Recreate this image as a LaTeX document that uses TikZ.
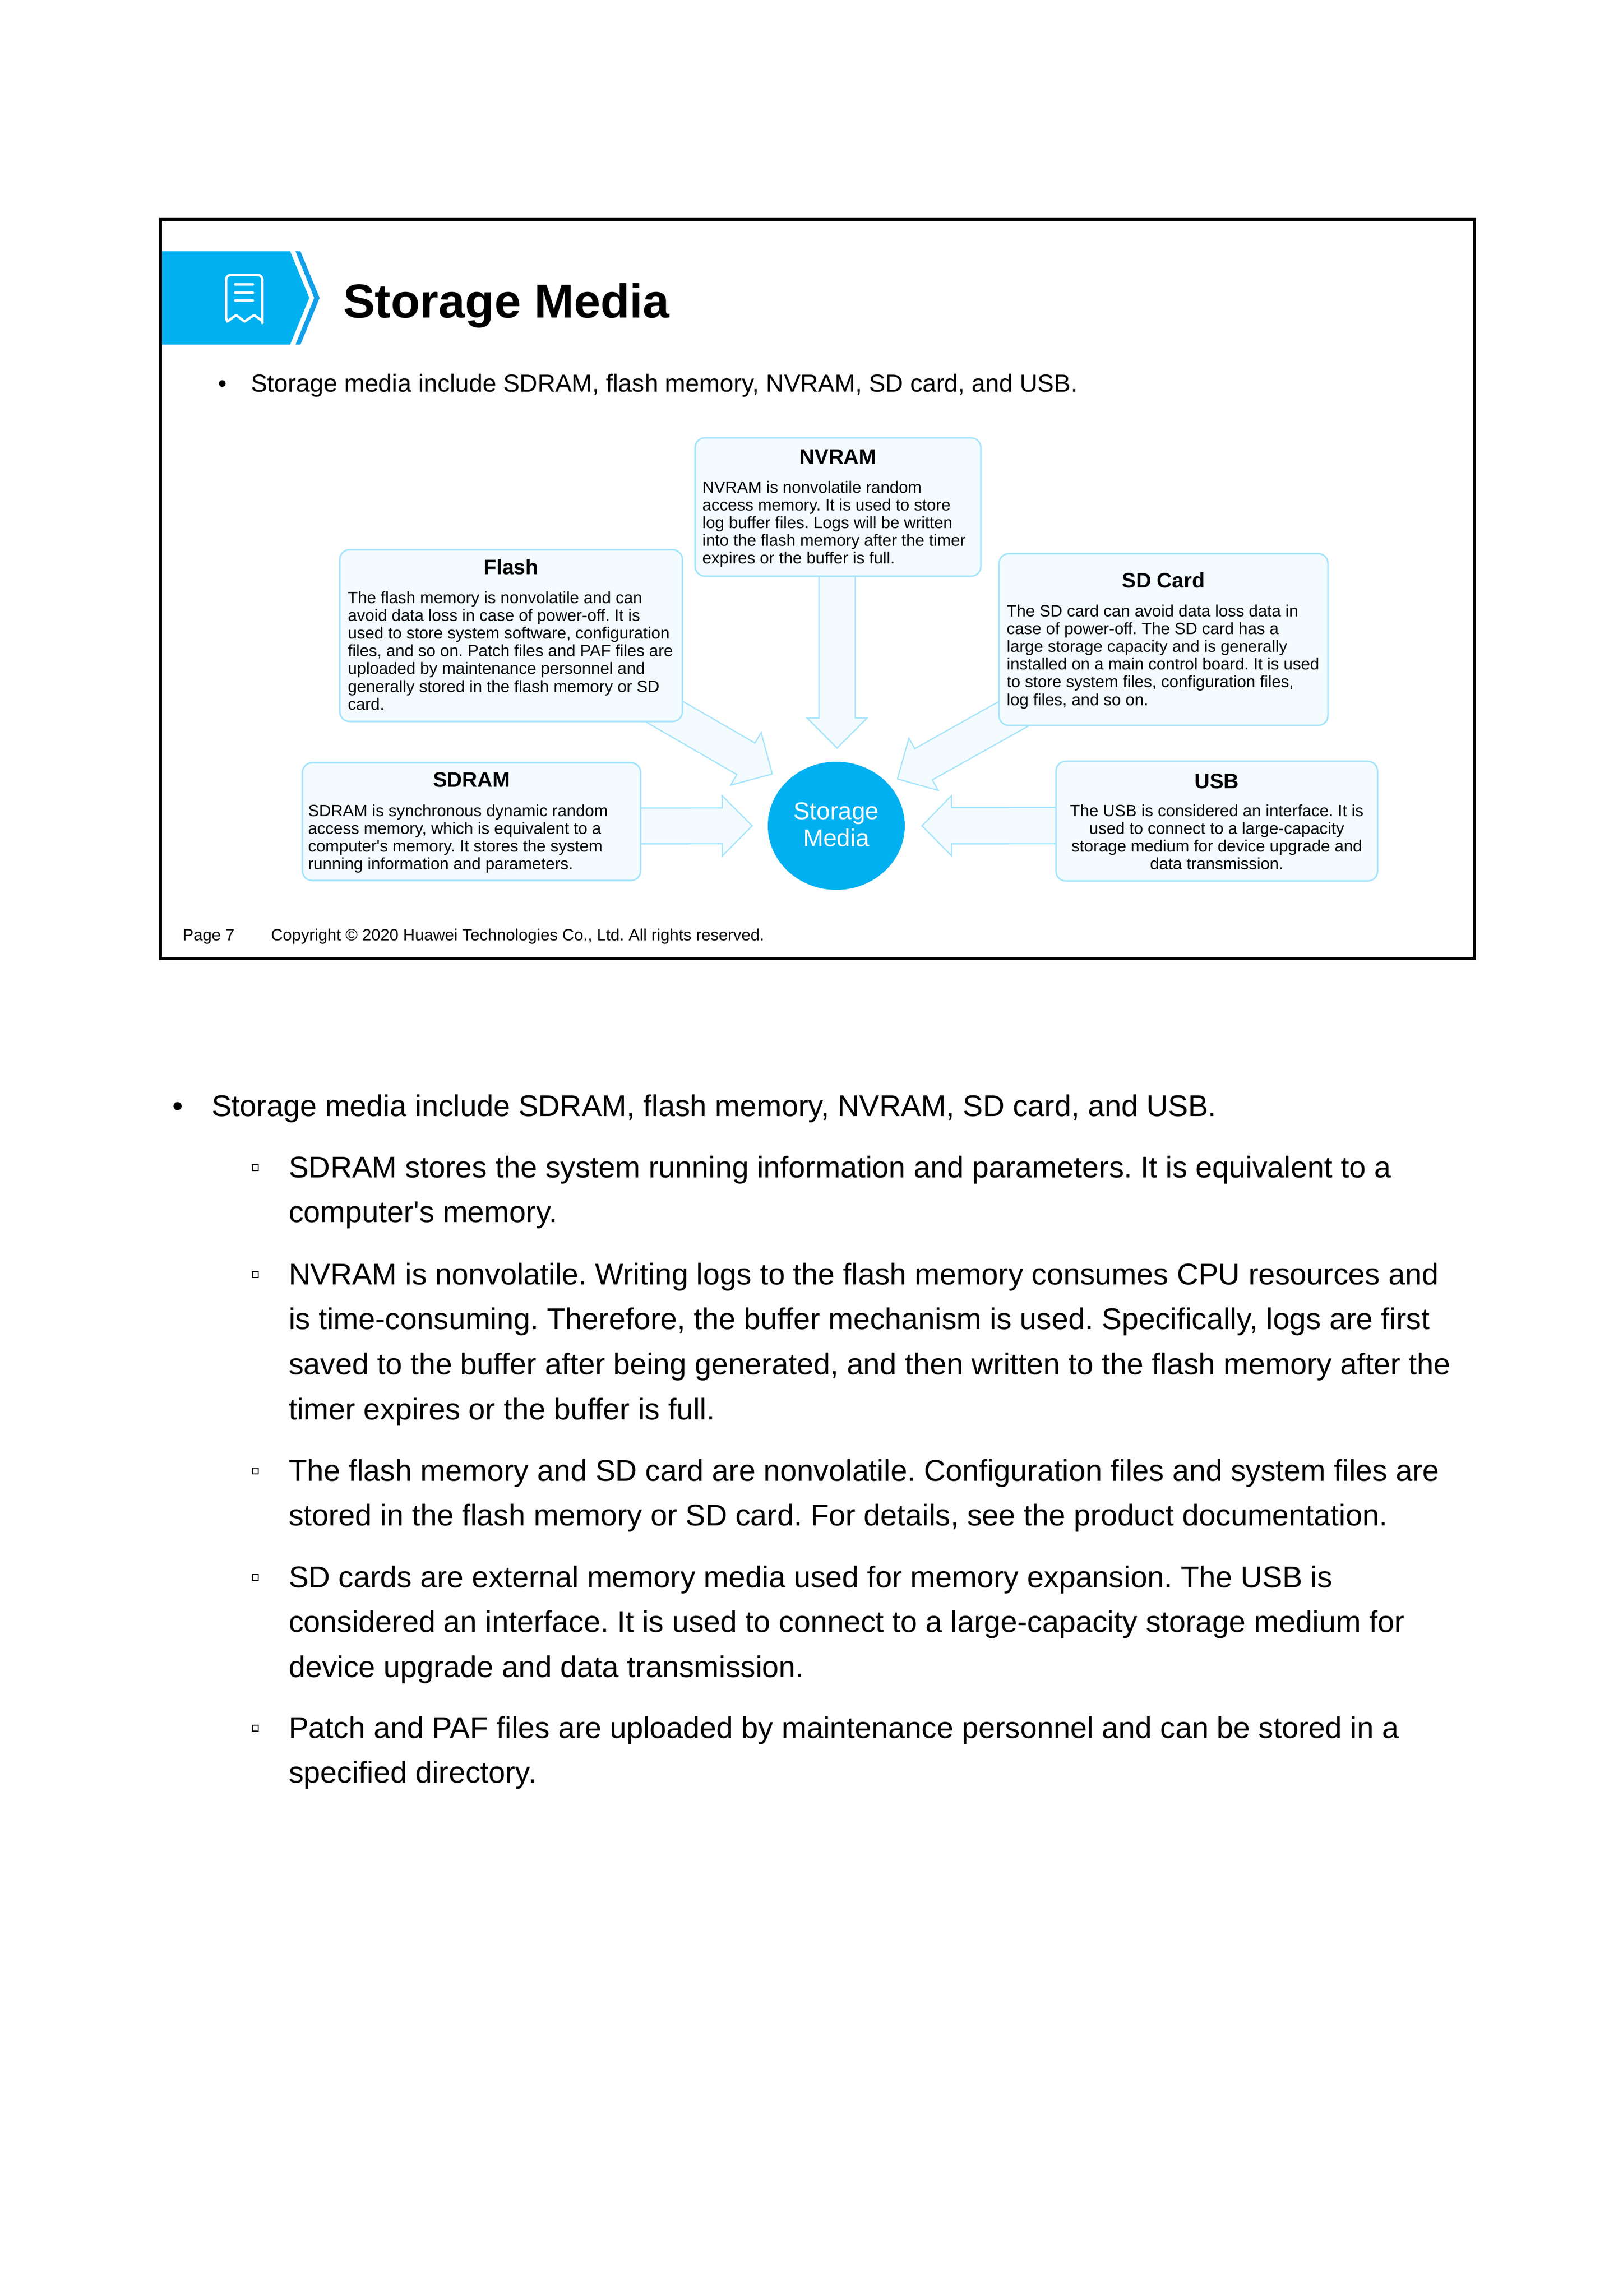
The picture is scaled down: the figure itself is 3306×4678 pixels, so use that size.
\documentclass[tikz,border=0pt]{standalone}
\usepackage{fontspec}
\usetikzlibrary{calc,positioning,shapes.geometric,backgrounds}
\newfontfamily\arialfont{Liberation Sans}
\frenchspacing
\definecolor{bannerblue}{HTML}{00B0F0}
\definecolor{chevronblue}{HTML}{129FEA}
\definecolor{mediaedge}{HTML}{A6E4FA}
\definecolor{mediafill}{HTML}{F3FBFF}
\tikzset{
mediabox/.style={
  draw=mediaedge,
  fill=mediafill,
  line width=.55pt,
  rectangle,
  rounded corners=3.6pt,
  inner sep=0pt
},
mediaarrow/.style={draw=mediaedge,fill=mediafill,line width=.45pt},
boxtitle/.style={anchor=base,inner sep=0pt,font=\arialfont\bfseries\fontsize{7.7}{9}\selectfont},
boxtext/.style={anchor=base west,inner sep=0pt,text width=125pt,align=flush left,font=\arialfont\fontsize{6.03}{6.5}\selectfont},
notetext/.style={anchor=base west,inner sep=0pt,text width=460pt,align=flush left,font=\arialfont\fontsize{11}{16.55}\selectfont},
notemark/.style={anchor=base,inner sep=0pt,font=\arialfont\fontsize{11}{13}\selectfont},
notesquare/.style={draw,rectangle,line width=.45pt,inner sep=0pt,minimum size=2.2pt},
iconline/.style={draw=white,line width=.9pt,line cap=round,line join=round},
footer/.style={anchor=base west,inner sep=0pt,font=\arialfont\fontsize{6}{7}\selectfont}
}
\newcommand{\blockarrow}[5]{%
  \coordinate (neck) at ($(#2)!#5*.18pt!(#1)$);
  \filldraw[mediaarrow] ($(#1)!#3*.18pt!90:(#2)$) -- ($(neck)!#3*.18pt!90:(#2)$)
    -- ($(neck)!#4*.18pt!90:(#2)$) -- (#2) -- ($(neck)!#4*.18pt!-90:(#2)$)
    -- ($(neck)!#3*.18pt!-90:(#2)$) -- ($(#1)!#3*.18pt!-90:(#2)$) -- cycle;
}
\begin{document}
\begin{tikzpicture}[x=.18pt,y=-.18pt]
        \useasboundingbox (0,0) rectangle (3306,4678);

        % slide head
        \fill[bannerblue] (327,512) -- (591,512) -- (630,607) -- (591,702) -- (327,702) -- cycle;
        \fill[chevronblue] (602,512) -- (612,512) -- (651,607) -- (612,702) -- (602,702) -- (640,607) -- cycle;
        \draw[iconline] [rounded corners=1.8pt] (460.5,648) -- (460.5,560) -- (534.5,560) -- (534.5,648)
            [sharp corners] -- (534.5,654) -- (517.5,642) -- (498,655) -- (481,642) -- (463,655) -- (460.5,648);
        \foreach \y in {579,596,612}
            \draw[iconline] (479,\y) -- (515,\y);
        \node[anchor=base west,inner sep=0pt,font=\arialfont\bfseries\fontsize{17.5}{20}\selectfont] (title) at (698,647) {Storage Media};
        \node[anchor=base,inner sep=0pt,font=\arialfont\fontsize{9}{11}\selectfont] (slidedot) at (453,798) {•};
        \node[anchor=base west,inner sep=0pt,font=\arialfont\fontsize{9.05}{11}\selectfont] (slideline) at (510,798) {Storage media include SDRAM, flash memory, NVRAM, SD card, and USB.};

        % boxes
        \node[mediabox,minimum width=698*.18pt,minimum height=350*.18pt] (flash) at (1041,1295) {};
        \node[mediabox,minimum width=689*.18pt,minimum height=240*.18pt] (sdram) at (960.5,1674) {};
        \node[mediabox,minimum width=582*.18pt,minimum height=282*.18pt] (nvram) at (1707,1033) {};
        \node[mediabox,minimum width=670*.18pt,minimum height=350*.18pt] (sdcard) at (2370,1303) {};
        \node[mediabox,minimum width=655*.18pt,minimum height=244*.18pt] (usb) at (2478.5,1673) {};
        \node[ellipse,fill=bannerblue,inner sep=0pt,minimum width=279*.18pt,minimum height=261*.18pt,text=white,align=flush center,
              text depth=1.1pt,font=\arialfont\fontsize{8.9}{9.9}\selectfont] (hub) at (1703.5,1682.5) {Storage\\Media};

        \node[boxtitle] (flashtitle) at ($(flash.north)+(0,52)$) {Flash};
        \node[boxtext] (flashtext) at ($(flash.north west)+(17,111)$) {The flash memory is nonvolatile and can\\
            avoid data loss in case of power-off. It is\\
            used to store system software, configuration\\
            files, and so on. Patch files and PAF files are\\
            uploaded by maintenance personnel and\\
            generally stored in the flash memory or SD\\
            card.};
        \node[boxtitle] (sdramtitle) at ($(sdram.north)+(0,51)$) {SDRAM};
        \node[boxtext] (sdramtext) at ($(sdram.north west)+(12,111)$) {SDRAM is synchronous dynamic random\\
            access memory, which is equivalent to a\\
            computer's memory. It stores the system\\
            running information and parameters.};
        \node[boxtitle] (nvramtitle) at ($(nvram.north)+(0,55)$) {NVRAM};
        \node[boxtext] (nvramtext) at ($(nvram.north west)+(15,114)$) {NVRAM is nonvolatile random\\
            access memory. It is used to store\\
            log buffer files. Logs will be written\\
            into the flash memory after the timer\\
            expires or the buffer is full.};
        \node[boxtitle] (sdcardtitle) at ($(sdcard.north)+(0,71)$) {SD Card};
        \node[boxtext] (sdcardtext) at ($(sdcard.north west)+(16,130)$) {The SD card can avoid data loss data in\\
            case of power-off. The SD card has a\\
            large storage capacity and is generally\\
            installed on a main control board. It is used\\
            to store system files, configuration files,\\
            log files, and so on.};
        \node[boxtitle] (usbtitle) at ($(usb.north)+(0,57)$) {USB};
        \node[boxtext,anchor=base,align=flush center] (usbtext) at ($(usb.north)+(0,114)$) {The USB is considered an interface. It is\\
            used to connect to a large-capacity\\
            storage medium for device upgrade and\\
            data transmission.};

        % arrows
        \coordinate (flashtail) at ($(flash)+(238,112)$);
        \coordinate (flashtip) at ($(hub)+(-130.5,-105.5)$);
        \coordinate (sdramtail) at ($(sdram)+(290,9)$);
        \coordinate (sdramtip) at ($(hub)+(-171.5,0)$);
        \coordinate (nvramtail) at ($(nvram)+(-2,67)$);
        \coordinate (nvramtip) at ($(hub)+(1.5,-158.5)$);
        \coordinate (sdcardtail) at ($(sdcard)+(-246,118)$);
        \coordinate (sdcardtip) at ($(hub)+(124.5,-95.5)$);
        \coordinate (usbtail) at ($(usb)+(-279,9)$);
        \coordinate (usbtip) at ($(hub)+(174.5,0)$);
        \begin{scope}[on background layer]
        \blockarrow{flashtail}{flashtip}{37}{62}{62}
        \blockarrow{sdramtail}{sdramtip}{36.5}{61.5}{61}
        \blockarrow{nvramtail}{nvramtip}{37}{61}{61}
        \blockarrow{sdcardtail}{sdcardtip}{36.5}{61}{61}
        \blockarrow{usbtail}{usbtip}{37}{61}{60}
        \end{scope}

        % slide foot
        \node[footer] (pagenum) at (371,1916) {Page 7};
        \node[footer] (copyright) at (551,1916) {Copyright © 2020 Huawei Technologies Co., Ltd. All rights reserved.};
        \draw[line width=1.08pt] (327,447) rectangle (3003,1953);

        % notes
        \node[notemark] (notedot) at (362,2274) {•};
        \node[notetext] (noteintro) at (430,2274) {Storage media include SDRAM, flash memory, NVRAM, SD card, and USB.};
        \node[notesquare] (square1) at (520,2379) {};
        \node[notetext] (note1) at (587,2399) {SDRAM stores the system running information and parameters. It is equivalent to a\\
            computer's memory.};
        \node[notesquare] (square2) at (520,2597) {};
        \node[notetext] (note2) at (587,2617) {NVRAM is nonvolatile. Writing logs to the flash memory consumes CPU resources and\\
            is time-consuming. Therefore, the buffer mechanism is used. Specifically, logs are first\\
            saved to the buffer after being generated, and then written to the flash memory after the\\
            timer expires or the buffer is full.};
        \node[notesquare] (square3) at (520,2997) {};
        \node[notetext] (note3) at (587,3017) {The flash memory and SD card are nonvolatile. Configuration files and system files are\\
            stored in the flash memory or SD card. For details, see the product documentation.};
        \node[notesquare] (square4) at (520,3214) {};
        \node[notetext] (note4) at (587,3234) {SD cards are external memory media used for memory expansion. The USB is\\
            considered an interface. It is used to connect to a large-capacity storage medium for\\
            device upgrade and data transmission.};
        \node[notesquare] (square5) at (520,3521) {};
        \node[notetext] (note5) at (587,3541) {Patch and PAF files are uploaded by maintenance personnel and can be stored in a\\
            specified directory.};
\end{tikzpicture}
\end{document}
